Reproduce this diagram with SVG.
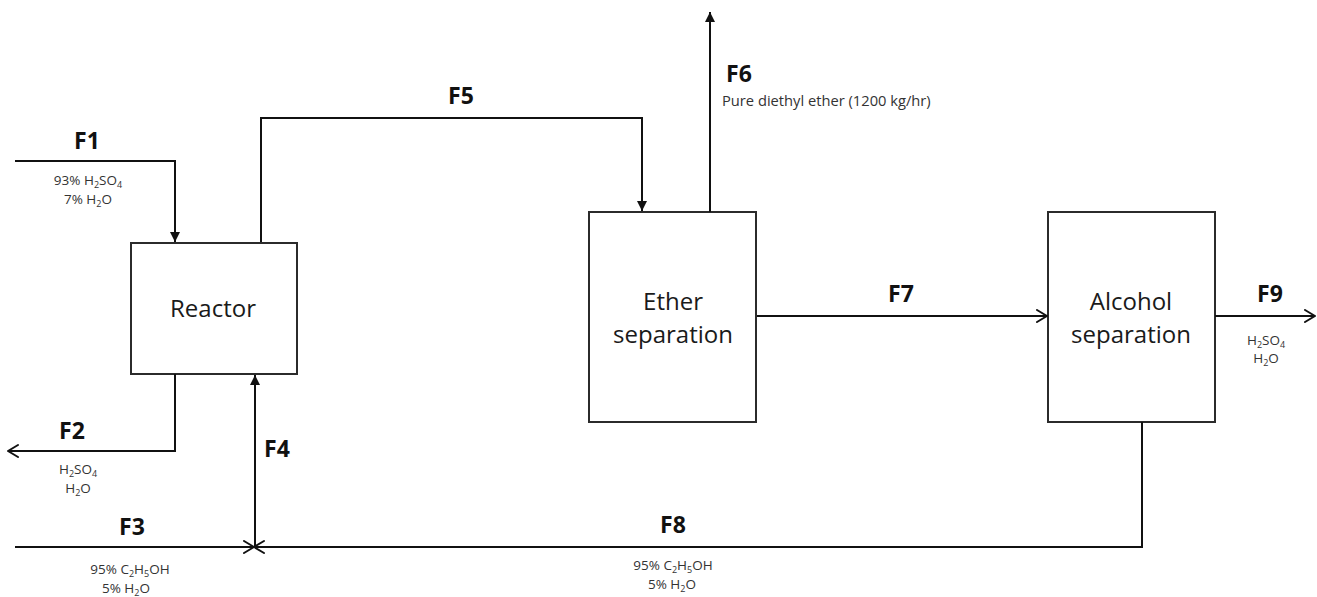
<svg xmlns="http://www.w3.org/2000/svg" width="1317" height="597" viewBox="0 0 1317 597">
  <style>
    .box { fill: #ffffff; stroke: #2b2b2b; stroke-width: 2; }
    .line { fill: none; stroke: #111111; stroke-width: 2; }
    .name { font-family: "Open Sans", "Noto Sans", sans-serif; font-size: 24px; fill: #1a1a1a; text-anchor: middle; }
    .tag { font-family: "Open Sans", "Noto Sans", sans-serif; font-size: 23px; font-weight: bold; fill: #111111; text-anchor: middle; }
    .note { font-family: "Open Sans", "Noto Sans", sans-serif; font-size: 13.5px; fill: #333333; text-anchor: middle; }
    .sub { font-size: 9px; }
  </style>
  <defs>
    <marker id="solid" markerUnits="userSpaceOnUse" markerWidth="12" markerHeight="12" refX="10" refY="5" orient="auto">
      <path d="M0,0 L10,5 L0,10 z" fill="#111111"/>
    </marker>
    <marker id="open" markerUnits="userSpaceOnUse" markerWidth="14" markerHeight="16" refX="11" refY="7" orient="auto">
      <path d="M1,1 L11,7 L1,13" fill="none" stroke="#111111" stroke-width="2" stroke-linejoin="round" stroke-linecap="round"/>
    </marker>
  </defs>

  <!-- process units -->
  <g id="reactor">
    <rect class="box" x="131" y="243" width="166" height="131"/>
    <text class="name" x="213" y="317">Reactor</text>
  </g>
  <g id="ether-separation">
    <rect class="box" x="589" y="212" width="167" height="210"/>
    <text class="name" x="673" y="310">Ether</text>
    <text class="name" x="673" y="343">separation</text>
  </g>
  <g id="alcohol-separation">
    <rect class="box" x="1048" y="212" width="167" height="210"/>
    <text class="name" x="1131" y="310">Alcohol</text>
    <text class="name" x="1131" y="343">separation</text>
  </g>

  <!-- streams -->
  <g id="connectors">
    <path id="f1" class="line" d="M15,161 H175 V242" marker-end="url(#solid)"/>
    <path id="f5" class="line" d="M261,242 V118 H642 V211" marker-end="url(#solid)"/>
    <path id="f6" class="line" d="M710,212 V12" marker-end="url(#solid)"/>
    <path id="f7" class="line" d="M757,316 H1047" marker-end="url(#open)"/>
    <path id="f9" class="line" d="M1215,316 H1315" marker-end="url(#open)"/>
    <path id="f2" class="line" d="M175,374 V451 H8" marker-end="url(#open)"/>
    <path id="f3" class="line" d="M15,547 H254" marker-end="url(#open)"/>
    <path id="f8" class="line" d="M1142,422 V547 H254" marker-end="url(#open)"/>
    <path id="f4" class="line" d="M255,547 V375" marker-end="url(#solid)"/>
  </g>

  <!-- stream labels -->
  <g id="labels">
    <text class="tag" x="87" y="149">F1</text>
    <text class="note" x="88" y="185">93% H<tspan class="sub" dy="3">2</tspan><tspan dy="-3">SO</tspan><tspan class="sub" dy="3">4</tspan></text>
    <text class="note" x="88" y="204">7% H<tspan class="sub" dy="3">2</tspan><tspan dy="-3">O</tspan></text>

    <text class="tag" x="72" y="439">F2</text>
    <text class="note" x="78" y="474">H<tspan class="sub" dy="3">2</tspan><tspan dy="-3">SO</tspan><tspan class="sub" dy="3">4</tspan></text>
    <text class="note" x="78" y="493">H<tspan class="sub" dy="3">2</tspan><tspan dy="-3">O</tspan></text>

    <text class="tag" x="132" y="535">F3</text>
    <text class="note" x="130" y="574">95% C<tspan class="sub" dy="3">2</tspan><tspan dy="-3">H</tspan><tspan class="sub" dy="3">5</tspan><tspan dy="-3">OH</tspan></text>
    <text class="note" x="126" y="593">5% H<tspan class="sub" dy="3">2</tspan><tspan dy="-3">O</tspan></text>

    <text class="tag" x="277" y="457">F4</text>
    <text class="tag" x="461" y="104">F5</text>

    <text class="tag" x="739" y="82">F6</text>
    <text class="note" x="722" y="106" style="text-anchor:start; font-size:14.7px">Pure diethyl ether (1200 kg/hr)</text>

    <text class="tag" x="901" y="302">F7</text>

    <text class="tag" x="673" y="533">F8</text>
    <text class="note" x="673" y="570">95% C<tspan class="sub" dy="3">2</tspan><tspan dy="-3">H</tspan><tspan class="sub" dy="3">5</tspan><tspan dy="-3">OH</tspan></text>
    <text class="note" x="672" y="589">5% H<tspan class="sub" dy="3">2</tspan><tspan dy="-3">O</tspan></text>

    <text class="tag" x="1270" y="302">F9</text>
    <text class="note" x="1266" y="345">H<tspan class="sub" dy="3">2</tspan><tspan dy="-3">SO</tspan><tspan class="sub" dy="3">4</tspan></text>
    <text class="note" x="1266" y="363">H<tspan class="sub" dy="3">2</tspan><tspan dy="-3">O</tspan></text>
  </g>
</svg>
